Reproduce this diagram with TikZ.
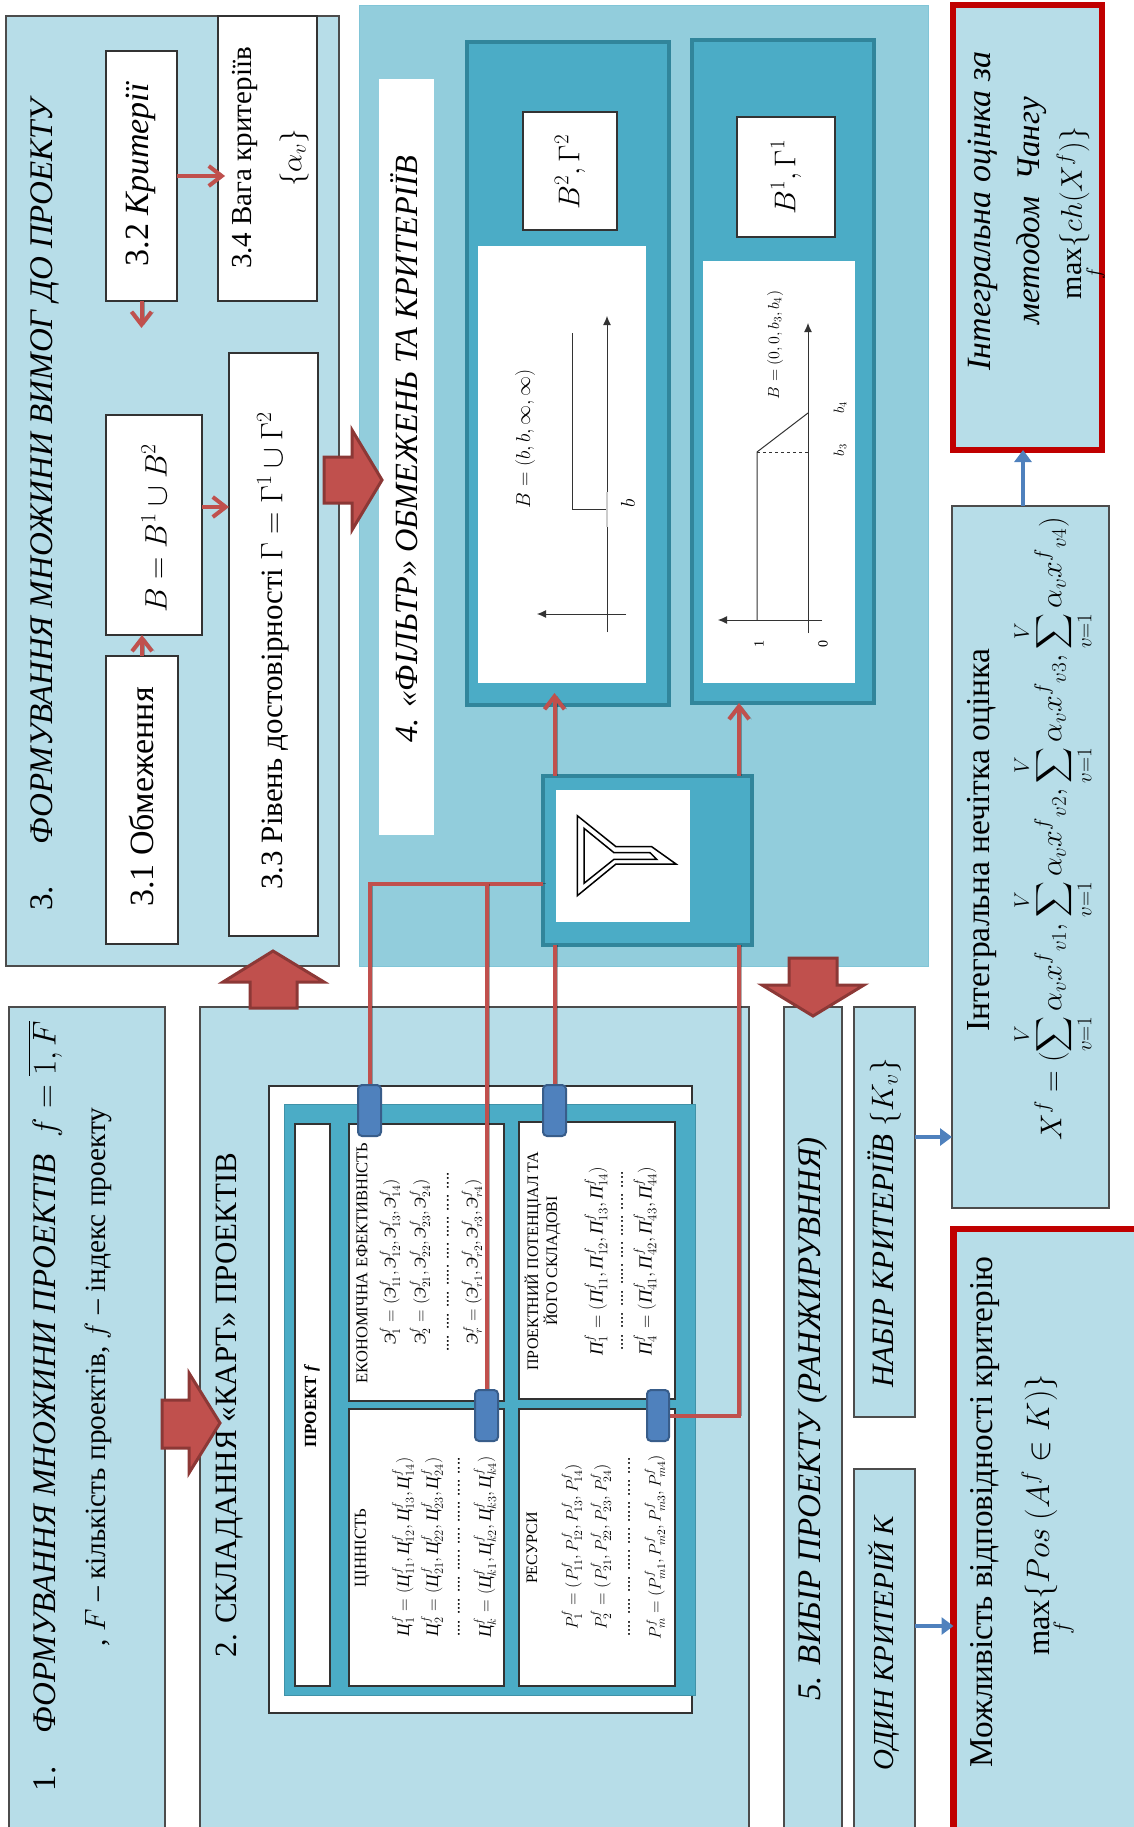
\documentclass[tikz,border=0pt]{standalone}
\usepackage{fix-cm}
\usepackage{amsmath}
\usepackage{fontspec}
\setmainfont{Liberation Serif}
\usetikzlibrary{arrows.meta,calc}
\pgfdeclarelayer{top}
\pgfsetlayers{main,top}
\definecolor{lightb}{HTML}{B7DDE8}
\definecolor{midb}{HTML}{92CDDC}
\definecolor{teal1}{HTML}{4BACC6}
\definecolor{teal2}{HTML}{31859B}
\definecolor{red1}{HTML}{C0504D}
\definecolor{red2}{HTML}{8C3836}
\definecolor{blue1}{HTML}{4F81BD}
\definecolor{blue2}{HTML}{385D8A}
\definecolor{redb}{HTML}{C00000}
\newcommand{\rbox}[6]{\node[#2,minimum width={(#5-(#3))*1pt},minimum height={(#6-(#4))*1pt},inner sep=0pt,outer sep=0pt] (#1) at ({((#3)+(#5))/2},{((#4)+(#6))/2}) {};}
\newcommand{\fs}[1]{\fontsize{#1}{#1}\selectfont}
\newcommand{\EE}{\text{\itshape Э}}
\newcommand{\CC}{\text{\itshape Ц}}
\newcommand{\PP}{\text{\itshape П}}
\newcommand{\dotsrow}{.... .... .... ..... .... ..... .... ....}
\newcommand{\ssum}[1]{\sum_{v=1}^{V}\alpha_v x^f{}_{v#1}}
\tikzset{
 lab/.style={rotate=90,inner sep=0pt,outer sep=0pt,anchor=center,text=black},
 bluebox/.style={fill=lightb,draw=black!70,line width=1.2pt},
 whitebox/.style={fill=white,draw=black!80,line width=1.2pt},
 tealbox/.style={fill=teal1,draw=teal2,line width=4pt},
 plainwhite/.style={fill=white},
 conn/.style={fill=blue1,draw=blue2,line width=2pt,rounded corners=4pt},
 redline/.style={draw=red1,line width=4pt,preaction={draw=black,opacity=.3,transform canvas={xshift=2.5pt}}},
 redarrow/.style={redline,-{Straight Barb[length=13pt,width=20pt,line width=4pt]}},
 bluearrow/.style={draw=blue1,line width=4.5pt,-{Triangle[length=12pt,width=17pt]}},
 blockarrow/.style={fill=red1,draw=red2,line width=3pt,miter limit=10},
 graphline/.style={draw=black!80,line width=1pt},
 grapharrow/.style={graphline,-{Latex[length=9pt,width=8pt]}},
}
\begin{document}
\begin{tikzpicture}[x=1pt,y=-1pt]
\useasboundingbox (0,0) rectangle (1133,1827);
% main panels
\rbox{p3}{bluebox}{6}{16}{339}{966}
\rbox{p1}{bluebox}{9}{1007}{165}{1835}
\rbox{p2}{bluebox}{200}{1007}{749}{1835}
\rbox{p4}{fill=midb,draw=teal1!70,line width=.8pt}{359}{5}{928}{966}
\rbox{p5}{bluebox}{784}{1007}{842}{1835}
\rbox{pn}{bluebox}{854}{1007}{915}{1417}
\rbox{po}{bluebox}{854}{1469}{915}{1835}
\rbox{pi}{bluebox}{952}{506}{1109}{1208}
\rbox{pr}{fill=lightb,draw=redb,line width=6.5pt}{953}{5}{1102}{450}
\rbox{pm}{fill=lightb,draw=redb,line width=6.5pt}{953.5}{1229}{1145}{1845}
% panel 3 inner
\rbox{n31}{whitebox}{106}{656}{178}{944}
\rbox{n32}{whitebox}{106}{51}{177}{301}
\rbox{nB}{whitebox}{106}{415}{202}{635}
\rbox{n33}{whitebox}{229}{353}{318}{936}
\rbox{n34}{whitebox}{218}{16}{317}{301}
\node[lab,font=\fs{34}] (t31) at (142,797) {3.1 Обмеження};
\node[lab,font=\fs{34}] (t32) at (141,174) {3.2 \textit{Критерії}};
\node[lab,font=\fs{31}] (tB) at (154,528) {$B=B^1\cup B^2$};
\node[lab,font=\fs{31}] (t33) at (273,651) {3.3 Рівень достовірності $\Gamma=\Gamma^1\cup\Gamma^2$};
\node[lab,font=\fs{29}] (t34a) at (245,158) {3.4 Вага критеріїв};
\node[lab,font=\fs{29}] (t34b) at (294,158) {$\{\alpha_v\}$};
\node[lab,font=\fs{33}] (t3) at (45,503) {3.\quad\ \textit{ФОРМУВАННЯ МНОЖИНИ ВИМОГ ДО ПРОЕКТУ}};
\coordinate (c32d) at (143,328);
\coordinate (cB3) at ([yshift=18pt]nB.east);
\draw[redarrow] (n32.east) -- ([xshift=7pt]n32.east -| n34.west);
\draw[redarrow] (n32.south) -- (n32.south |- c32d);
\draw[redarrow] (n31.north) -- (n31.north |- nB.south);
\draw[redarrow] (cB3) -- (cB3 -| n33.west);
% panel 1, 2 titles
\node[lab,font=\fs{33}] (t1) at (45,1406) {1.\quad\textit{ФОРМУВАННЯ МНОЖИНИ ПРОЕКТІВ}\ \ $f=\overline{1,F}$};
\node[lab,font=\fs{29.3}] (t1b) at (98,1377) {, $F$ -- кількість проектів, $f$ -- індекс проекту};
\node[lab,font=\fs{31}] (t2) at (230,1405) {2. СКЛАДАННЯ «КАРТ» ПРОЕКТІВ};
% card
\rbox{card}{whitebox}{269}{1086}{692}{1713}
\rbox{cardt}{fill=teal1,draw=teal1!85!black,line width=1pt}{284}{1104}{695}{1695}
\rbox{cp}{whitebox}{295}{1124}{330}{1686}
\rbox{ce}{whitebox}{349}{1124}{504}{1401}
\rbox{cv}{whitebox}{349}{1409}{504}{1686}
\rbox{cq}{whitebox}{519}{1122}{675}{1399}
\rbox{cr}{whitebox}{519}{1409}{675}{1686}
\node[lab,font=\fs{17}\bfseries] (tp) at (312,1406) {ПРОЕКТ \textit{f}};
\node[lab,font=\fs{16.5}] (te) at (362,1263) {ЕКОНОМІЧНА ЕФЕКТИВНІСТЬ};
\node[lab,font=\fs{16}] at (533,1261) (tq1) {ПРОЕКТНИЙ ПОТЕНЦІАЛ ТА};
\node[lab,font=\fs{16}] at (552,1261) (tq2) {ЙОГО СКЛАДОВІ};
\node[lab,font=\fs{16.8}] (tv) at (362,1548) {ЦІННІСТЬ};
\node[lab,font=\fs{16}] (tr) at (532,1548) {РЕСУРСИ};
\tikzset{fm/.style={lab,font=\fs{16.5}}}
\node[fm] (e1) at (390,1262) {$\EE^f_1=(\EE^f_{11},\EE^f_{12},\EE^f_{13},\EE^f_{14})$};
\node[fm] (e2) at (420,1262) {$\EE^f_2=(\EE^f_{21},\EE^f_{22},\EE^f_{23},\EE^f_{24})$};
\node[fm] (e3) at (448,1262) {\dotsrow};
\node[fm] (e4) at (472,1262) {$\EE^f_r=(\EE^f_{r1},\EE^f_{r2},\EE^f_{r3},\EE^f_{r4})$};
\node[fm,font=\fs{18.5}] (q1) at (596,1261) {$\PP^f_1=(\PP^f_{11},\PP^f_{12},\PP^f_{13},\PP^f_{14})$};
\node[fm] (q3) at (622,1261) {\dotsrow};
\node[fm,font=\fs{18.5}] (q4) at (645,1261) {$\PP^f_4=(\PP^f_{41},\PP^f_{42},\PP^f_{43},\PP^f_{44})$};
\node[fm,font=\fs{17.5}] (v1) at (403,1547) {$\CC^f_1=(\CC^f_{11},\CC^f_{12},\CC^f_{13},\CC^f_{14})$};
\node[fm,font=\fs{17.5}] (v2) at (432,1547) {$\CC^f_2=(\CC^f_{21},\CC^f_{22},\CC^f_{23},\CC^f_{24})$};
\node[fm] (v3) at (459,1547) {\dotsrow};
\node[fm,font=\fs{17.5}] (v4) at (485,1547) {$\CC^f_k=(\CC^f_{k1},\CC^f_{k2},\CC^f_{k3},\CC^f_{k4})$};
\node[fm] (r1) at (572,1547) {$P^f_1=(P^f_{11},P^f_{12},P^f_{13},P^f_{14})$};
\node[fm] (r2) at (601,1547) {$P^f_2=(P^f_{21},P^f_{22},P^f_{23},P^f_{24})$};
\node[fm] (r3) at (629,1547) {\dotsrow};
\node[fm] (r4) at (655,1547) {$P^f_m=(P^f_{m1},P^f_{m2},P^f_{m3},P^f_{m4})$};
% panel 4
\rbox{s4}{plainwhite}{379}{79}{434}{835}
\node[lab,font=\fs{32.4}\itshape] (t4) at (404,449) {4. «ФІЛЬТР» ОБМЕЖЕНЬ ТА КРИТЕРІЇВ};
\rbox{b2}{tealbox}{467}{42}{669}{705}
\rbox{b1}{tealbox}{692}{40}{874}{703}
\rbox{b2t}{whitebox}{523}{112}{617}{230}
\rbox{b1t}{whitebox}{737}{117}{835}{237}
\rbox{b2g}{plainwhite}{478}{246}{646}{683}
\rbox{b1g}{plainwhite}{703}{261}{855}{683}
\node[lab,font=\fs{30}] (tb2) at (570,172) {$B^2,\Gamma^2$};
\node[lab,font=\fs{30}] (tb1) at (786,177) {$B^1,\Gamma^1$};
% graph B2
\coordinate (g2o) at (607,632); \coordinate (g2e) at (607,316);
\coordinate (g2v) at (626,614); \coordinate (g2w) at (537,614);
\coordinate (g2a) at (607,509); \coordinate (g2b) at (572,509); \coordinate (g2c) at (572,333);
\draw[grapharrow] (g2o) -- (g2e);
\draw[grapharrow] (g2v) -- (g2w);
\draw[graphline] (g2a) -- (g2b) -- (g2c);
\draw[draw=black!20,line width=1.5pt] (607,492) -- (607,527);
\node[lab,font=\fs{20}] (lb) at (628,503) {$b$};
\node[lab,font=\fs{20}] (lb2) at (525,439) {$B=(b,b,\infty,\infty)$};
% graph B1
\coordinate (g1o) at (808,633); \coordinate (g1e) at (808,323);
\coordinate (g1v) at (822,620); \coordinate (g1w) at (718,620);
\coordinate (g1a) at (757,620); \coordinate (g1b) at (757,452); \coordinate (g1c) at (808,413); \coordinate (g1d) at (808,452);
\draw[grapharrow] (g1o) -- (g1e);
\draw[grapharrow] (g1v) -- (g1w);
\draw[graphline] (g1a) -- (g1b) -- (g1c);
\draw[graphline,dashed] (g1b) -- (g1d);
\node[lab,font=\fs{14}] (l1) at (759,644) {1};
\node[lab,font=\fs{14}] (l0) at (823,644) {0};
\node[lab,font=\fs{15}] (lb3) at (840,450) {$b_3$};
\node[lab,font=\fs{15}] (lb4) at (840,408) {$b_4$};
\node[lab,font=\fs{16}] (lbb) at (775,345) {$B=(0,0,b_3,b_4)$};
% panel 5 labels
\node[lab,font=\fs{33}\itshape] (t5) at (813,1419) {5. ВИБІР ПРОЕКТУ (РАНЖИРУВННЯ)};
\node[lab,font=\fs{31}\itshape] (tn) at (884,1223) {НАБІР КРИТЕРІЇВ $\{K_v\}$};
\node[lab,font=\fs{29}\itshape] (to) at (884,1643) {ОДИН КРИТЕРІЙ К};
% integral
\node[lab,font=\fs{33.6}] (ti) at (982,840) {Інтегральна нечітка оцінка};
\node[lab,font=\fs{30}] (tf) at (1053,829) {$\displaystyle X^f=(\ssum{1},\ssum{2},\ssum{3},\ssum{4})$};
% red boxes
\node[lab,font=\fs{34}\itshape] (tr1) at (983,211) {Інтегральна оцінка за};
\node[lab,font=\fs{33}\itshape] (tr2) at (1032,211) {методом\ \ Чангу};
\node[lab,font=\fs{30}] (tr3) at (1082,213) {$\max\limits_f\{ch(X^f)\}$};
\node[lab,font=\fs{33.3}] (tm1) at (985,1512) {Можливість відповідності критерію};
\node[lab,font=\fs{32.5}] (tm2) at (1049,1515) {$\max\limits_f\{Pos\ (A^f\in K)\}$};
% filter
\rbox{filter}{tealbox}{543}{776}{752}{945}
\rbox{filterw}{plainwhite}{556}{790}{690}{922}
\draw[black,line width=1.5pt,miter limit=10] (577.3,815.7) -- (616,846.7) -- (651.7,846.7) -- (676,864) -- (616,864) -- (577.3,895.7) -- cycle;
\draw[black,line width=1.5pt,miter limit=10] (584,828.3) -- (614,852.7) -- (650,852.7) -- (656.7,859.3) -- (614,859.3) -- (584,883.3) -- cycle;
% connectors of the card
\begin{pgfonlayer}{top}
\rbox{k1}{conn}{358}{1085}{381}{1136}
\rbox{k2}{conn}{475}{1390}{498}{1441}
\rbox{k3}{conn}{543}{1085}{566}{1136}
\rbox{k4}{conn}{647}{1390}{669}{1441}
\end{pgfonlayer}
\coordinate (xb) at (739,0);
\coordinate (lj) at ([yshift=-23pt]filter.west);
\draw[redline] (lj) -| (k1.north);
\draw[redline] (lj -| k2.north) -- (k2.north);
\draw[redline] (k3.north) -- (k3.north |- filter.south);
\draw[redline] (xb |- filter.south) |- (k4.east);
\draw[redarrow] (k3.north |- filter.north) -- ([yshift=12pt]k3.north |- b2.south);
\draw[redarrow] (xb |- filter.north) -- (xb |- b1.south);
% blue arrows
\coordinate (an) at (0,1137); \coordinate (ao) at (0,1626); \coordinate (ai) at (1023,0);
\draw[bluearrow] (an -| pn.east) -- (an -| pi.west);
\draw[bluearrow] (ao -| po.east) -- (ao -| pm.west);
\draw[bluearrow] (ai |- pi.north) -- (ai |- pr.south);
% block arrows
\draw[blockarrow] (162,1400) -- (189,1400) -- (189,1373) -- (220,1423) -- (189,1473) -- (189,1448) -- (162,1448) -- cycle;
\draw[blockarrow] (250,1008) -- (250,982) -- (223,982) -- (273,951) -- (324,982) -- (297,982) -- (297,1008) -- cycle;
\draw[blockarrow] (324,457) -- (352,457) -- (352,430) -- (382,480) -- (352,530) -- (352,503) -- (324,503) -- cycle;
\draw[blockarrow] (789,958) -- (837,958) -- (837,985) -- (864,985) -- (813,1016) -- (762,985) -- (789,985) -- cycle;
\end{tikzpicture}
\end{document}
